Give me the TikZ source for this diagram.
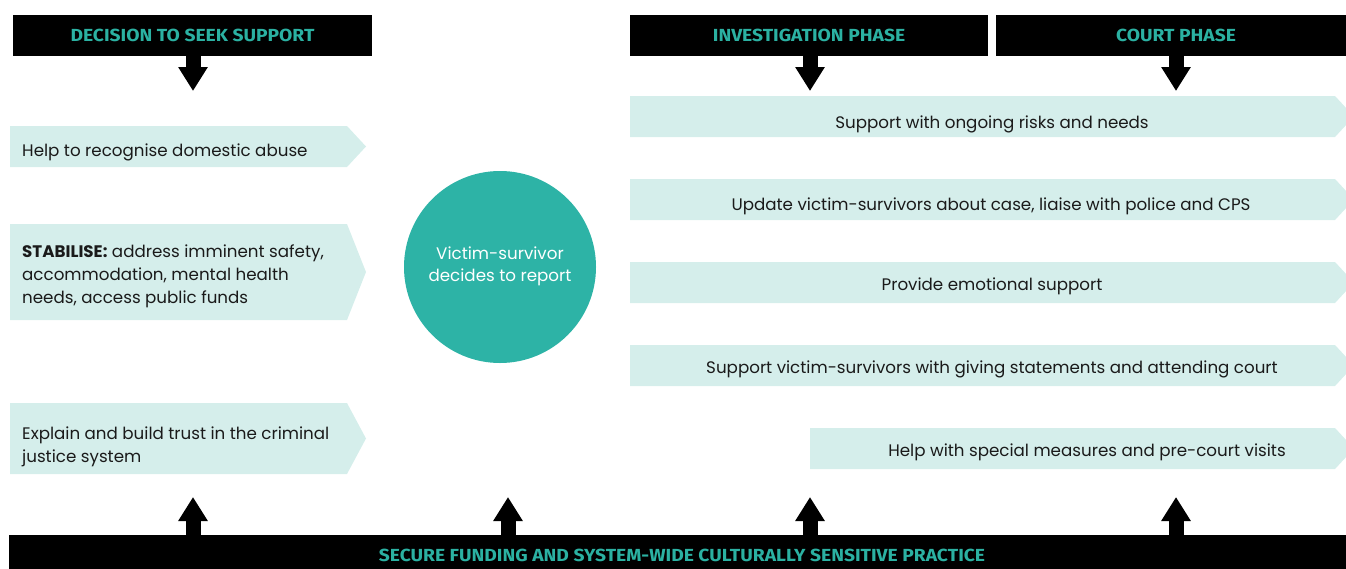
\documentclass[tikz,border=0pt]{standalone}
\usepackage{fontspec}
\setmainfont{Poppins}
\newfontfamily\hdfont[FakeStretch=1.1]{Fira Sans}
\usetikzlibrary{arrows.meta}

\definecolor{brandteal}{HTML}{2BB1A2}
\definecolor{circteal}{HTML}{2DB3A6}
\definecolor{pale}{HTML}{D5EEEB}
\definecolor{ink}{HTML}{1A1A1A}

% pale banner with a pointed right end: x-left, y-top, x-body-end, y-bottom
\newcommand\bannershape[4]{%
  \fill[pale] (#1,#2) -- (#3,#2) -- ({#3+19},{(#2+#4)/2}) -- (#3,#4) -- (#1,#4) -- cycle;}

\begin{document}
\begin{tikzpicture}[x=1pt,y=-1pt,
  header/.style={fill=black, minimum height=41pt, inner sep=0pt},
  capline/.style={font=\hdfont\bfseries\fontsize{17.5}{20}\selectfont, text=brandteal, inner sep=0pt},
  lefttext/.style={font=\fontsize{16.7}{22.8}\selectfont, text=ink, inner sep=0pt, anchor=base west, align=left},
  midtext/.style={font=\fontsize{16.7}{22.8}\selectfont, text=ink, inner sep=0pt, anchor=base},
  blockarrow/.style={draw=black, line width=15pt, -{Triangle[width=28pt,length=24pt]}}
]
\useasboundingbox (0,0) rectangle (1346,568);

% phase headers
\node[header, minimum width=359pt] (dec) at (192.5,35.5) {};
\node[header, minimum width=358pt] (inv) at (809,35.5) {};
\node[header, minimum width=360pt] (court) at (1176,35.5) {};
\node[capline] (dect) at (dec.center) {DECISION TO SEEK SUPPORT};
\node[capline] (invt) at (inv.center) {INVESTIGATION PHASE};
\node[capline] (courtt) at (court.center) {COURT PHASE};

% arrows from the headers
\coordinate (d1) at (193,91);
\coordinate (d2) at (810,91);
\coordinate (d3) at (1176,91);
\draw[blockarrow] (d1 |- dec.south) -- (d1);
\draw[blockarrow] (d2 |- inv.south) -- (d2);
\draw[blockarrow] (d3 |- court.south) -- (d3);

% left column (multi-line nodes are placed by the baseline of their last line)
\bannershape{10}{126}{347}{167}
\bannershape{10}{224}{347}{320}
\bannershape{10}{403}{347}{474}
\node[lefttext] (l1) at (22,156) {Help to recognise domestic abuse};
\node[lefttext] (l2) at (22,303) {\textbf{STABILISE:} address imminent safety,\\accommodation, mental health\\needs, access public funds};
\node[lefttext] (l3) at (22,462) {Explain and build trust in the criminal\\justice system};

% central circle
\node[circle, fill=circteal, minimum size=192pt, inner sep=0pt] (vs) at (500,267) {};
\node[font=\fontsize{16.7}{22}\selectfont, text=white, align=center, inner sep=0pt, anchor=base]
  (vst) at (500,281) {Victim-survivor\\decides to report};

% right column
\bannershape{630}{96}{1335}{137}
\bannershape{630}{179}{1335}{220}
\bannershape{630}{262}{1335}{303}
\bannershape{630}{345}{1335}{386}
\bannershape{810}{428}{1335}{469}
\node[midtext] (r1) at (992,128) {Support with ongoing risks and needs};
\node[midtext] (r2) at (991,210) {Update victim-survivors about case, liaise with police and CPS};
\node[midtext] (r3) at (992,290) {Provide emotional support};
\node[midtext] (r4) at (992,373) {Support victim-survivors with giving statements and attending court};
\node[midtext] (r5) at (1087,456) {Help with special measures and pre-court visits};

% foundation bar
\fill[black] (9,535) rectangle (1356,578);
\node[capline] (base) at (682,555) {SECURE FUNDING AND SYSTEM-WIDE CULTURALLY SENSITIVE PRACTICE};
\coordinate (bartop) at (0,535);
\coordinate (u1) at (193,497);
\coordinate (u2) at (508,497);
\coordinate (u3) at (810,497);
\coordinate (u4) at (1176,497);
\foreach \u in {u1,u2,u3,u4}
  \draw[blockarrow] (\u |- bartop) -- (\u);
\end{tikzpicture}
\end{document}
